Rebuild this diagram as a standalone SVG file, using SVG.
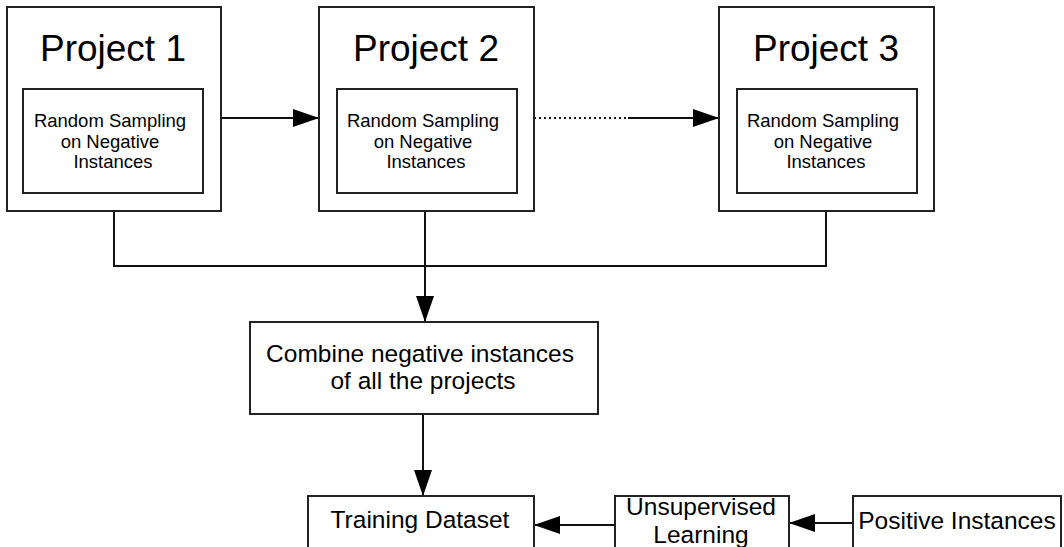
<svg xmlns="http://www.w3.org/2000/svg" width="1064" height="547" viewBox="0 0 1064 547">
<style>
.box{fill:#fff;stroke:#222;stroke-width:2}
.t{font-family:"Liberation Sans",Arial,sans-serif;fill:#000;text-anchor:middle}
.title{font-size:37px}
.small{font-size:18.5px}
.mid{font-size:24.5px}
.c{fill:none;stroke:#111;stroke-width:2}
</style>
<defs>
<marker id="ah" viewBox="0 0 26 18" refX="26" refY="9" markerWidth="26" markerHeight="18" markerUnits="userSpaceOnUse" orient="auto">
<path d="M0,0 L26,9 L0,18 z" fill="#000"/>
</marker>
</defs>
<g id="connectors">
<line class="c" x1="221" y1="118" x2="319" y2="118" marker-end="url(#ah)"/>
<line class="c" x1="534" y1="118" x2="628" y2="118" stroke-dasharray="2 3"/>
<line class="c" x1="628" y1="118" x2="719" y2="118" marker-end="url(#ah)"/>
<polyline class="c" points="114,211 114,266 826,266 826,211"/>
<line class="c" x1="425" y1="211" x2="425" y2="322" marker-end="url(#ah)"/>
<line class="c" x1="423" y1="414" x2="423" y2="496" marker-end="url(#ah)"/>
<line class="c" x1="615" y1="525" x2="534" y2="525" marker-end="url(#ah)"/>
<line class="c" x1="853" y1="523" x2="789" y2="523" marker-end="url(#ah)"/>
</g>
<g id="project1">
<rect class="box" x="7" y="7" width="214" height="204"/>
<text class="t title" x="113" y="61">Project 1</text>
<rect class="box" x="23" y="89" width="180" height="104"/>
<text class="t small" x="110" y="127">Random Sampling</text>
<text class="t small" x="110" y="148">on Negative</text>
<text class="t small" x="113" y="168">Instances</text>
</g>
<g id="project2">
<rect class="box" x="319" y="7" width="215" height="204"/>
<text class="t title" x="426" y="61">Project 2</text>
<rect class="box" x="337" y="89" width="180" height="104"/>
<text class="t small" x="423" y="127">Random Sampling</text>
<text class="t small" x="423" y="148">on Negative</text>
<text class="t small" x="426" y="168">Instances</text>
</g>
<g id="project3">
<rect class="box" x="719" y="7" width="215" height="204"/>
<text class="t title" x="826" y="61">Project 3</text>
<rect class="box" x="737" y="89" width="180" height="104"/>
<text class="t small" x="823" y="127">Random Sampling</text>
<text class="t small" x="823" y="148">on Negative</text>
<text class="t small" x="826" y="168">Instances</text>
</g>
<g id="combine">
<rect class="box" x="250" y="322" width="348" height="92"/>
<text class="t mid" x="420" y="362">Combine negative instances</text>
<text class="t mid" x="423" y="389">of all the projects</text>
</g>
<g id="training">
<rect class="box" x="308" y="496" width="226" height="60"/>
<text class="t mid" x="420" y="528">Training Dataset</text>
</g>
<g id="unsupervised">
<rect class="box" x="615" y="496" width="174" height="60"/>
<text class="t mid" x="701" y="515">Unsupervised</text>
<text class="t mid" x="701" y="543">Learning</text>
</g>
<g id="positive">
<rect class="box" x="853" y="496" width="208" height="60"/>
<text class="t mid" x="957" y="529">Positive Instances</text>
</g>
</svg>
